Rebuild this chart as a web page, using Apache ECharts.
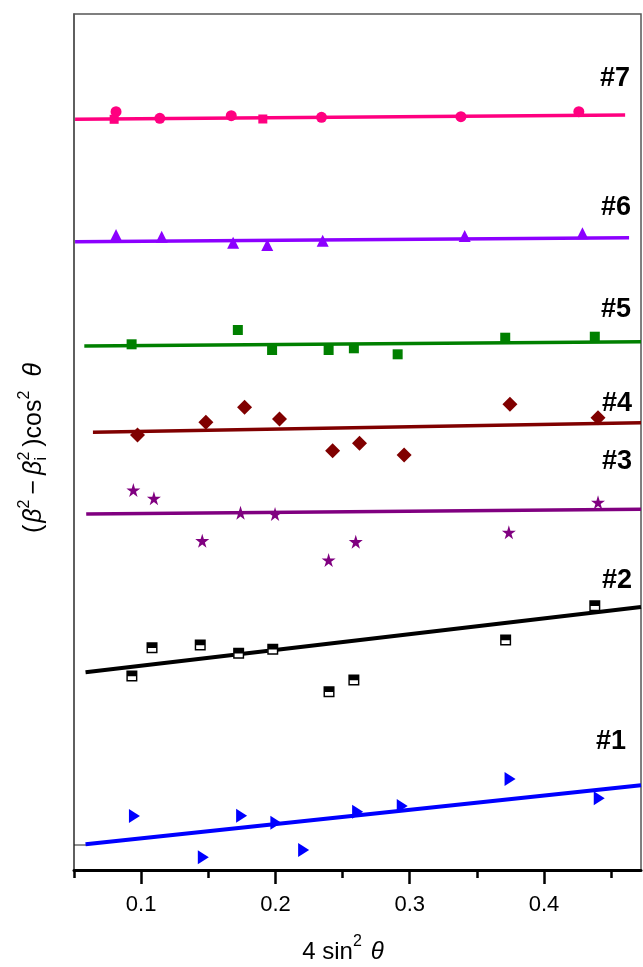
<!DOCTYPE html>
<html><head><meta charset="utf-8">
<script src="https://cdn.jsdelivr.net/npm/echarts@6/dist/echarts.min.js"></script>
<style>html,body{margin:0;padding:0;background:#fff}#c{width:643px;height:967px}</style>
</head><body><div id="c"></div>
<script>
// ---- axis ticks ----
const xMajorTicks = [0.1, 0.2, 0.3, 0.4];
const xMinorTicks = [0.05, 0.15, 0.25, 0.35, 0.45];
const seriesNames = ['#1', '#2', '#3', '#4', '#5', '#6', '#7'];

// ---- data (x = 4 sin^2 theta, y = arbitrary offset units) ----
const s1x = [0.0950, 0.1463, 0.1748, 0.2003, 0.2210, 0.2612, 0.2944, 0.3747, 0.4411];
const s1y = [0.540, 0.127, 0.543, 0.473, 0.200, 0.583, 0.640, 0.910, 0.717];
const fit1x = [0.0586, 0.4722];
const fit1y = [0.257, 0.848];
const stub1x = [0.0500, 0.0590];
const stub1y = [0.250, 0.250];

const s2x = [0.0931, 0.1081, 0.1440, 0.1726, 0.1980, 0.2399, 0.2584, 0.3714, 0.4378];
const s2y = [1.940, 2.223, 2.250, 2.167, 2.207, 1.783, 1.900, 2.300, 2.643];
const fit2x = [0.0586, 0.4722];
const fit2y = [1.977, 2.631];

const s3x = [0.0942, 0.1095, 0.1455, 0.1740, 0.1997, 0.2396, 0.2598, 0.3738, 0.4402];
const s3y = [3.800, 3.717, 3.293, 3.573, 3.560, 3.100, 3.283, 3.377, 3.677];
const fit3x = [0.0591, 0.4722];
const fit3y = [3.560, 3.607];

const s4x = [0.0973, 0.1482, 0.1770, 0.2030, 0.2426, 0.2626, 0.2958, 0.3746, 0.4402];
const s4y = [4.350, 4.477, 4.627, 4.510, 4.193, 4.267, 4.150, 4.657, 4.523];
const fit4x = [0.0641, 0.4722];
const fit4y = [4.377, 4.473];

const s5x = [0.0929, 0.1720, 0.1975, 0.2396, 0.2584, 0.2910, 0.3711, 0.4378];
const s5y = [5.257, 5.400, 5.200, 5.200, 5.217, 5.157, 5.323, 5.333];
const fit5x = [0.0577, 0.4722];
const fit5y = [5.240, 5.282];

const s6x = [0.0813, 0.1153, 0.1685, 0.1939, 0.2352, 0.3409, 0.4286];
const s6y = [6.350, 6.333, 6.273, 6.250, 6.293, 6.340, 6.367];
const fit6x = [0.0508, 0.4633];
const fit6y = [6.283, 6.323];

const s7CircleX = [0.0813, 0.1139, 0.1671, 0.2343, 0.3381, 0.4259];
const s7CircleY = [7.583, 7.517, 7.543, 7.527, 7.533, 7.583];
const s7SquareX = [0.0799, 0.1906];
const s7SquareY = [7.507, 7.510];
const fit7x = [0.0508, 0.4604];
const fit7y = [7.507, 7.550];

// ---- helpers ----
const pts = (xs, ys) => xs.map((x, i) => [x, ys[i]]);
const FONT = '"Liberation Sans", Arial, Helvetica, sans-serif';
const STAR = 'path://M50,0L61,35L98,35L68,57L79,91L50,70L21,91L32,57L2,35L39,35Z';
const HALFSQ = 'path://M0,0L10,0L10,10L0,10Z M1.3,5.2L1.3,8.7L8.7,8.7L8.7,5.2Z';
const RTRI = 'path://M0,0L10,6L0,12Z';

function fitLine(xs, ys, color, w) {
  return { type: 'line', data: pts(xs, ys), showSymbol: false, symbol: 'none',
    lineStyle: { color: color, width: w }, z: 2, silent: true, animation: false };
}
function scatter(xs, ys, symbol, size, color, extra) {
  return Object.assign({ type: 'scatter', data: pts(xs, ys), symbol: symbol, symbolSize: size,
    itemStyle: { color: color, opacity: 1 }, z: 3, animation: false, silent: true }, extra || {});
}

// ---- axis titles laid out with measured text ----
const ctx = document.createElement('canvas').getContext('2d');
function tw(t, size, italic) {
  ctx.font = (italic ? 'italic ' : '') + size + 'px ' + FONT;
  return ctx.measureText(t).width;
}
function layout(tokens) {
  let x = 0; const out = [];
  const mk = (t, s, i, px, dy) => ({ type: 'text', x: px, y: dy || 0, style: { text: t, fontSize: s,
    fontStyle: i ? 'italic' : 'normal', fontFamily: FONT, fill: '#000', verticalAlign: 'middle' } });
  tokens.forEach(tk => {
    if (tk.stack) {
      let adv = 0;
      tk.stack.forEach(s => { out.push(mk(s.t, s.s, s.i, x, s.dy)); adv = Math.max(adv, tw(s.t, s.s, s.i)); });
      x += adv + (tk.gap || 0);
    } else {
      out.push(mk(tk.t, tk.s, tk.i, x, tk.dy));
      x += tw(tk.t, tk.s, tk.i) + (tk.gap || 0);
    }
  });
  return { children: out, width: x };
}
const ySize = 25, ySup = 16;
const yTitle = layout([
  { t: '(', s: ySize, gap: 2 },
  { t: 'β', s: ySize, i: true, gap: 0 },
  { t: '2', s: ySup, dy: -9, gap: 5 },
  { t: '−', s: ySize, gap: 5 },
  { t: 'β', s: ySize, i: true, gap: 0 },
  { stack: [{ t: '2', s: ySup, dy: -9 }, { t: 'i', s: ySup, dy: 8 }], gap: 5 },
  { t: ')', s: ySize, gap: 0 },
  { t: 'cos', s: ySize, gap: 0 },
  { t: '2', s: ySup, dy: -9, gap: 14 },
  { t: 'θ', s: ySize, i: true }
]);
const xTitle = layout([
  { t: '4 sin', s: 24, gap: 0 },
  { t: '2', s: 16, dy: -10, gap: 9 },
  { t: 'θ', s: 24, i: true }
]);

const labelStyle = (t, right, cy) => ({ type: 'text', x: right, y: cy,
  style: { text: t, fontSize: 27, fontWeight: 'bold', fontFamily: FONT, fill: '#000',
    align: 'right', verticalAlign: 'middle' } });

const chart = echarts.init(document.getElementById('c'), null, { renderer: 'canvas' });
chart.setOption({
  backgroundColor: '#fff',
  animation: false,
  grid: { left: 74, right: 2, top: 14, bottom: 97, containLabel: false, outerBoundsMode: 'none',
    show: true, borderColor: '#555', borderWidth: 1.5, backgroundColor: 'transparent' },
  xAxis: [
    { type: 'value', min: 0.05, max: 0.4722, position: 'bottom',
      axisLine: { show: true, onZero: false, lineStyle: { color: '#000', width: 3 } },
      axisTick: { show: true, customValues: xMajorTicks, length: 14, lineStyle: { color: '#000', width: 2.5 } },
      axisLabel: { show: true, customValues: xMajorTicks, margin: 24, fontSize: 22, color: '#000', fontFamily: FONT,
        formatter: v => v.toFixed(1) },
      splitLine: { show: false } },
    // second x axis is placed on top by ECharts; shifted down onto the bottom line to carry minor ticks
    { type: 'value', min: 0.05, max: 0.4722, position: 'top', offset: -856,
      axisLine: { show: false },
      axisTick: { show: true, inside: true, customValues: xMinorTicks, length: 8, lineStyle: { color: '#000', width: 2.5 } },
      axisLabel: { show: false }, splitLine: { show: false } }
  ],
  yAxis: [
    { type: 'value', min: 0, max: 8.56, position: 'left',
      axisLine: { show: true, onZero: false, lineStyle: { color: '#555', width: 1.5 } },
      axisTick: { show: false }, axisLabel: { show: false }, splitLine: { show: false } }
  ],
  series: [
    fitLine(stub1x, stub1y, '#222', 1),
    fitLine(fit1x, fit1y, '#0000FF', 4),
    scatter(s1x, s1y, RTRI, [11, 14], '#0000FF'),
    fitLine(fit2x, fit2y, '#000000', 4),
    scatter(s2x, s2y, 'rect', 10, '#FFFFFF', { z: 3 }),
    scatter(s2x, s2y, HALFSQ, 11, '#000000', { z: 4, name: seriesNames[1] }),
    fitLine(fit3x, fit3y, '#800080', 3.5),
    scatter(s3x, s3y, STAR, 14, '#800080'),
    fitLine(fit4x, fit4y, '#800000', 3.5),
    scatter(s4x, s4y, 'diamond', 15, '#800000'),
    fitLine(fit5x, fit5y, '#008000', 3.5),
    scatter(s5x, s5y, 'rect', 10, '#008000'),
    fitLine(fit6x, fit6y, '#8C00FF', 3.5),
    scatter(s6x, s6y, 'triangle', [12, 12], '#8C00FF'),
    fitLine(fit7x, fit7y, '#FF0080', 3.5),
    scatter(s7SquareX, s7SquareY, 'rect', 9, '#FF0080'),
    scatter(s7CircleX, s7CircleY, 'circle', 11, '#FF0080')
  ],
  graphic: [
    labelStyle(seriesNames[6], 630, 79),
    labelStyle(seriesNames[5], 631, 208),
    labelStyle(seriesNames[4], 631, 310),
    labelStyle(seriesNames[3], 632, 404),
    labelStyle(seriesNames[2], 632, 462),
    labelStyle(seriesNames[1], 632, 581),
    labelStyle(seriesNames[0], 626, 742),
    { type: 'group', x: 34, y: 448 + yTitle.width / 2, rotation: Math.PI / 2, children: yTitle.children },
    { type: 'group', x: 343 - xTitle.width / 2, y: 952, children: xTitle.children }
  ]
});
</script>
</body></html>
